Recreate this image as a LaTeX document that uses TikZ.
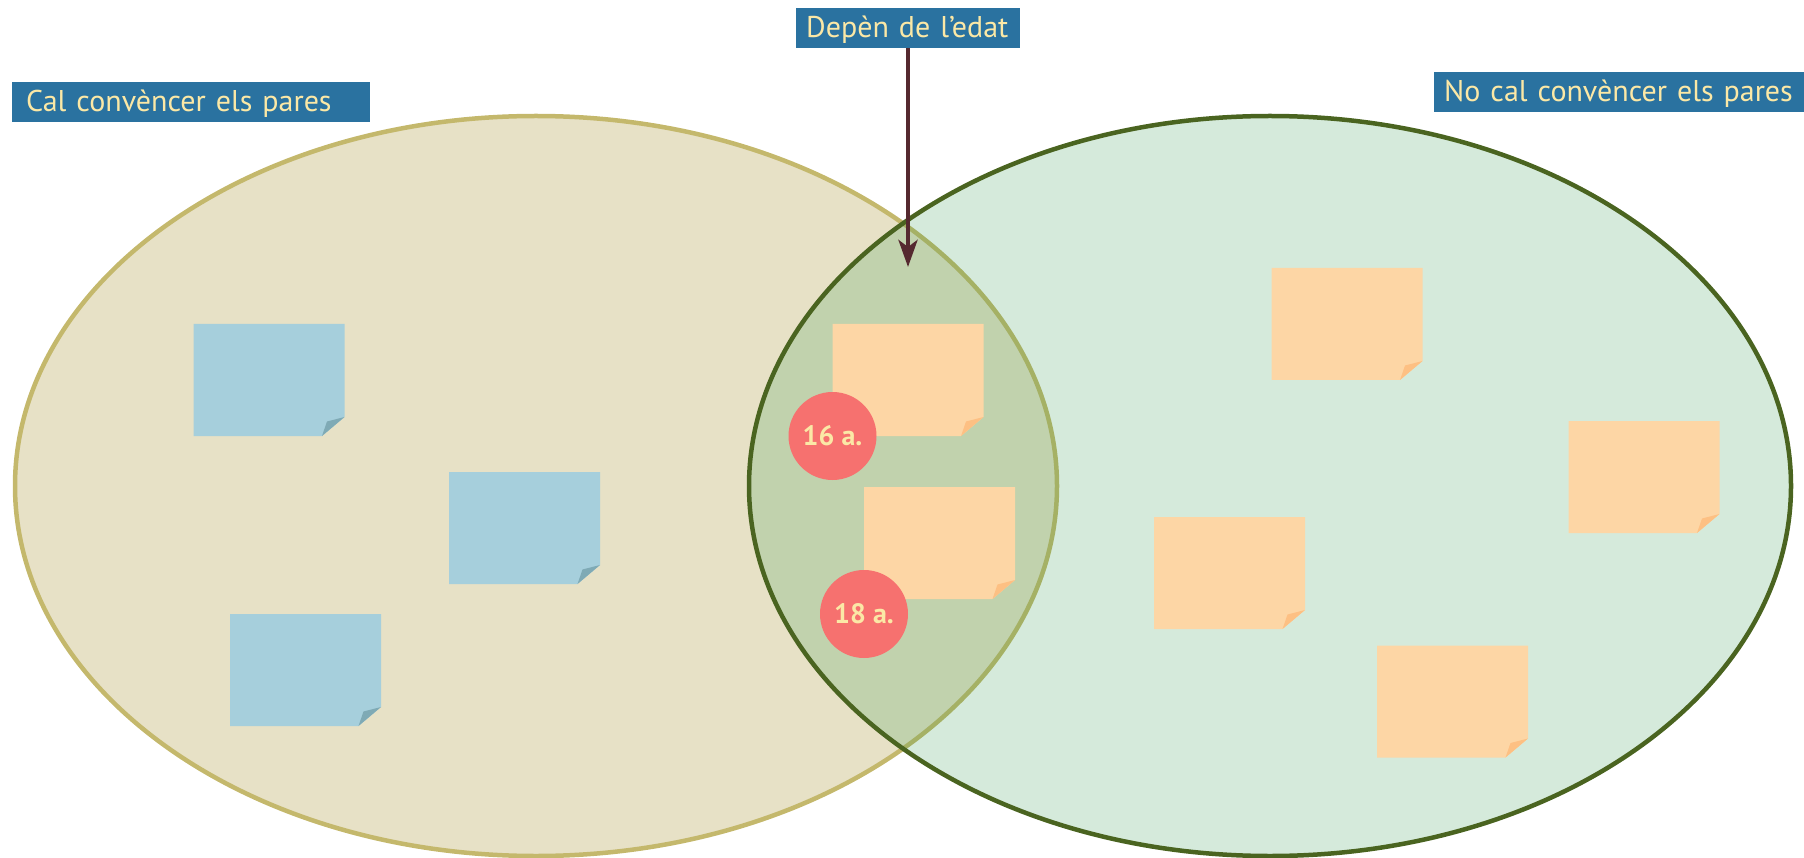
\documentclass[tikz,border=0pt]{standalone}
\usepackage{fontspec}
\setmainfont{PT Sans}
\usetikzlibrary{arrows.meta}

\definecolor{tagblue}{HTML}{2A72A0}
\definecolor{cream}{HTML}{FBE8A6}
\definecolor{sandfill}{HTML}{E7E1C6}
\definecolor{sandline}{HTML}{C4B86C}
\definecolor{greenfill}{RGB}{45,150,75}
\definecolor{greenline}{HTML}{4A6420}
\definecolor{bluenote}{HTML}{A6CFDC}
\definecolor{bluefold}{HTML}{7FAAB5}
\definecolor{orangenote}{HTML}{FDD6A5}
\definecolor{orangefold}{HTML}{FDC083}
\definecolor{coral}{HTML}{F6716F}
\definecolor{maroon}{HTML}{55292F}

\tikzset{
  tag/.style={fill=tagblue, text=cream, anchor=north west, align=left,
    font=\fontsize{30}{36}\selectfont, inner ysep=0pt,
    text height=29.5pt, text depth=10.5pt},
  age/.style={circle, fill=coral, text=cream, minimum size=88pt, inner sep=0pt,
    font=\bfseries\fontsize{28}{32}\selectfont}
}

% sticky note: top left corner (#1,#2), colour name #3
\newcommand{\postit}[3]{%
  \fill[#3note] (#1,#2) -- ++(151,0) -- ++(0,93) -- ++(-22.5,19) -- ++(-128.5,0) -- cycle;
  \fill[#3fold] (#1,#2) ++(128.5,112) -- ++(5,-14.5) -- ++(17.5,-4.5) -- cycle;
}

\begin{document}
\begin{tikzpicture}[x=1pt,y=-1pt]
\useasboundingbox (0,0) rectangle (1804,858);
% Draw the two sets
\draw[line width=4.5pt, draw=sandline, fill=sandfill] (536,486) ellipse [x radius=521, y radius=370];
\fill[greenfill, fill opacity=0.2] (1270,486) ellipse [x radius=521, y radius=370];
\draw[line width=4.5pt, greenline] (1270,486) ellipse [x radius=521, y radius=370];
% Notes on the left
\postit{193.5}{324}{blue}
\postit{449}{472}{blue}
\postit{230}{614}{blue}
% Notes in the middle
\postit{832.5}{324}{orange}
\postit{864}{487}{orange}
% Notes on the right
\postit{1271.5}{268}{orange}
\postit{1568.5}{421}{orange}
\postit{1154}{517}{orange}
\postit{1377}{645.5}{orange}
% Ages
\node[age] (n16) at (832.5,436) {16 a.};
\node[age] (n18) at (864,614) {18 a.};
% Labels
\node[tag, inner xsep=14pt, text width=330pt] (cal) at (12,82) {Cal convèncer els pares};
\node[tag, inner xsep=10pt, text width=350pt] (nocal) at (1434,72) {No cal convèncer els pares};
\node[tag, inner xsep=10pt, text width=204pt] (edat) at (796,8) {Depèn de l’edat};
% Arrow into the overlap
\coordinate (tip) at (908,267);
\draw[maroon, line width=4.5pt, -{Stealth[length=27pt, width=19pt, inset=7pt]}] (edat.south -| tip) -- (tip);
\end{tikzpicture}
\end{document}
